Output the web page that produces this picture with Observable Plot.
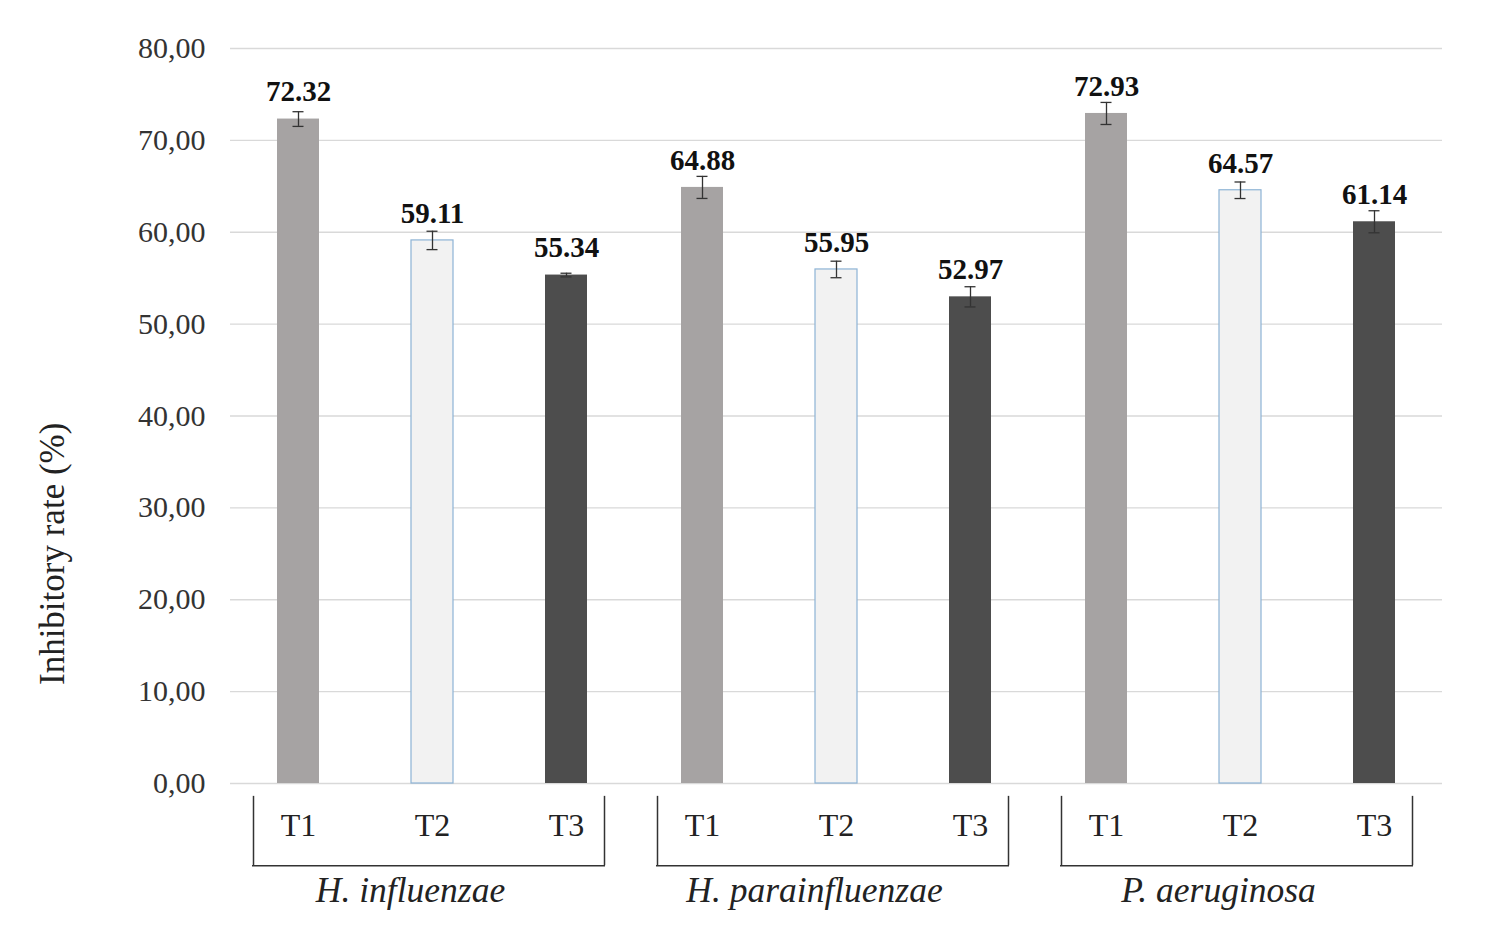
<!DOCTYPE html>
<html><head><meta charset="utf-8">
<script src="https://cdn.jsdelivr.net/npm/d3@7"></script>
<script src="https://cdn.jsdelivr.net/npm/@observablehq/plot@0.6"></script>
<style>body{margin:0;background:#fff} svg{display:block}</style>
</head><body><div id="chart"></div>
<script>
const groups = ["H. influenzae", "H. parainfluenzae", "P. aeruginosa"];
const treatments = ["T1", "T2", "T3"];
const values = [[72.32, 59.11, 55.34], [64.88, 55.95, 52.97], [72.93, 64.57, 61.14]];
const errors = [[0.8, 1.0, 0.2], [1.2, 0.9, 1.1], [1.2, 0.9, 1.2]];
const yTicks = [0, 10, 20, 30, 40, 50, 60, 70, 80];
const yTitle = "Inhibitory rate (%)";
const colors = ["#a6a3a3", "#f2f2f2", "#4d4d4d"];

const data = groups.flatMap((g, gi) => treatments.map((t, ti) => ({group: g, t, v: values[gi][ti], e: errors[gi][ti]})));
const outlined = data.filter(d => d.t === "T2");
const serif = "Liberation Serif, Times New Roman, serif";

const chart = Plot.plot({
  width: 1488,
  height: 947,
  marginLeft: 230,
  marginRight: 46,
  marginTop: 48,
  marginBottom: 164,
  style: {fontFamily: serif, background: "#fff", overflow: "visible"},
  fx: {domain: groups, padding: 0, axis: null},
  x: {domain: treatments, paddingInner: 0.69, paddingOuter: 0.345},
  y: {domain: [0, 80]},
  color: {domain: treatments, range: colors},
  marks: [
    Plot.gridY(yTicks, {stroke: "#d9d9d9", strokeOpacity: 1, strokeWidth: 1.3}),
    Plot.axisY(yTicks, {tickFormat: d => d.toFixed(2).replace(".", ","), tickSize: 0, tickPadding: 25, fontSize: 30, fill: "#333", label: null}),
    Plot.axisX({tickSize: 0, tickPadding: 30, fontSize: 32, fill: "#222", label: null}),
    Plot.barY(data, {fx: "group", x: "t", y: "v", fill: "t"}),
    Plot.barY(outlined, {fx: "group", x: "t", y: "v", fill: "none", stroke: "#8db3d5", strokeWidth: 1.2}),
    Plot.ruleX(data, {fx: "group", x: "t", y1: d => d.v - d.e, y2: d => d.v + d.e, stroke: "#333", strokeWidth: 1.3}),
    Plot.tickY(data, {fx: "group", x: "t", y: d => d.v - d.e, stroke: "#333", strokeWidth: 1.3, insetLeft: 15.5, insetRight: 15.5}),
    Plot.tickY(data, {fx: "group", x: "t", y: d => d.v + d.e, stroke: "#333", strokeWidth: 1.3, insetLeft: 15.5, insetRight: 15.5}),
    Plot.text(data, {fx: "group", x: "t", y: "v", text: d => d.v.toFixed(2), dy: -27, fontSize: 29, fontWeight: "bold", fill: "#111", lineAnchor: "middle"}),
    // group brackets
    Plot.ruleX(["T1"], {x: d => d, y1: -1.4, y2: -8.95, dx: -45, stroke: "#333", strokeWidth: 1.5}),
    Plot.ruleX(["T3"], {x: d => d, y1: -1.4, y2: -8.95, dx: 38, stroke: "#333", strokeWidth: 1.5}),
    Plot.ruleY([-8.95], {insetLeft: 22, insetRight: 29, stroke: "#333", strokeWidth: 1.5}),
    Plot.text(groups, {fx: d => d, y: -11.7, text: d => d, dx: -22, fontSize: 35.5, fontStyle: "italic", fill: "#222", lineAnchor: "middle"}),
    Plot.text([{g: groups[0], label: yTitle}], {fx: "g", y: 25, text: "label", frameAnchor: "left", textAnchor: "middle", dx: -178, rotate: -90, fontSize: 35, fill: "#222", lineAnchor: "middle"})
  ]
});
document.getElementById("chart").appendChild(chart);
</script>
</body></html>
